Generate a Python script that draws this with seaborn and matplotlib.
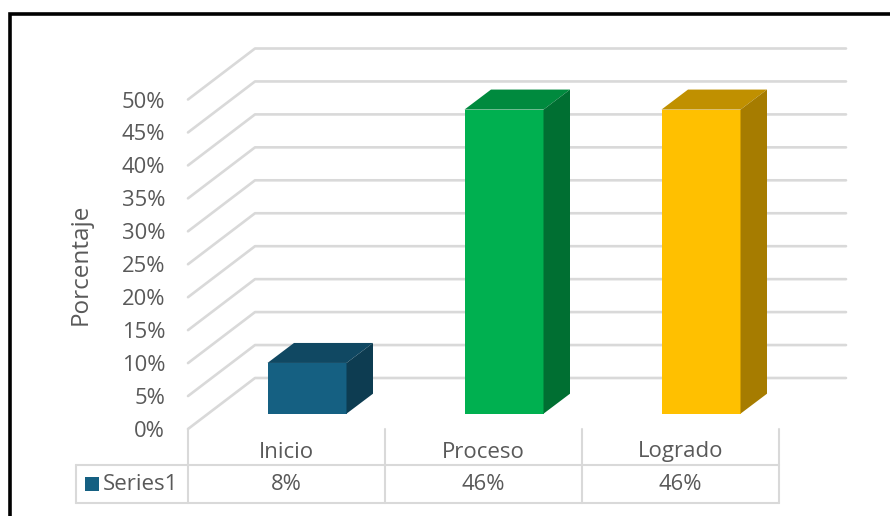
import matplotlib
matplotlib.use("Agg")
import matplotlib.pyplot as plt
from matplotlib.lines import Line2D
from matplotlib.patches import Polygon, Rectangle
import seaborn as sns

# data
categorias = ["Inicio", "Proceso", "Logrado"]
porcentajes = [7.7, 46.15, 46.15]
etiquetas_tabla = ["8%", "46%", "46%"]
ticks_y = [0, 5, 10, 15, 20, 25, 30, 35, 40, 45, 50]
serie = "Series1"

color_frente = ["#156082", "#00B050", "#FFC000"]
color_arriba = ["#104862", "#008A3E", "#C09000"]
color_lado = ["#0D3C51", "#006F32", "#A67C00"]
gris_linea = "#D9D9D9"
gris_texto = "#595959"

sns.set_theme(style="white")
plt.rcParams["font.family"] = ["Open Sans", "DejaVu Sans"]

W, H = 890, 516
fig = plt.figure(figsize=(W / 100, H / 100), dpi=100)
# the front plane of the fake 3d box
x0, x1, y_cero, y_cincuenta = 188, 779, 429, 99.5
ax = fig.add_axes([x0 / W, 1 - y_cero / H, (x1 - x0) / W, (y_cero - y_cincuenta) / H])

px_x = (x1 - x0) / 3          # pixels per category
px_y = (y_cero - y_cincuenta) / 50   # pixels per percent unit

sns.barplot(x=categorias, y=porcentajes, hue=categorias, palette=color_frente,
            width=79 / px_x, saturation=1, legend=False, ax=ax, zorder=3)
ax.set_xlim(-0.5, 2.5)
ax.set_ylim(0, 50)

# depth of the walls and of the bars
prof_x, prof_y = 67 / px_x, 51 / px_y
bar_x, bar_y = 26.5 / px_x, 20 / px_y
mueve_x, mueve_y = 20.5 / px_x, 15.3 / px_y

# grid lines, floor and back wall
for t in ticks_y:
    ax.plot([-0.5, -0.5 + prof_x, 2.5 + prof_x], [t, t + prof_y, t + prof_y],
            color=gris_linea, lw=1.9, clip_on=False, zorder=1,
            solid_capstyle="round", solid_joinstyle="round")

# move bars back and add top + side faces
for i, p in enumerate(ax.patches):
    p.set_x(p.get_x() + mueve_x)
    p.set_y(p.get_y() + mueve_y)
    p.set_clip_on(False)
    p.set_edgecolor("none")
    p.set_linewidth(0)
    xa, xb = p.get_x(), p.get_x() + p.get_width()
    ya, yb = p.get_y(), p.get_y() + p.get_height()
    ax.add_patch(Polygon([(xa, yb), (xa + bar_x, yb + bar_y), (xb + bar_x, yb + bar_y), (xb, yb)],
                         fc=color_arriba[i], ec="none", clip_on=False, zorder=3))
    ax.add_patch(Polygon([(xb, ya), (xb + bar_x, ya + bar_y), (xb + bar_x, yb + bar_y), (xb, yb)],
                         fc=color_lado[i], ec="none", clip_on=False, zorder=3))

ax.set_yticks(ticks_y)
ax.set_yticklabels([f"{t}%" for t in ticks_y])
ax.set_xticks(range(len(categorias)))
ax.set_xticklabels(categorias)
ax.tick_params(axis="y", length=0, pad=16.5, labelsize=15.8, labelcolor=gris_texto)
ax.tick_params(axis="x", length=0, pad=9, labelsize=16, labelcolor=gris_texto)
ax.set_ylabel("Porcentaje", fontsize=17.5, color=gris_texto)
ax.yaxis.set_label_coords((93 - x0) / (x1 - x0), (y_cero - 264) / (y_cero - y_cincuenta))
ax.set_xlabel("")
sns.despine(ax=ax, left=True, bottom=True)

# data table under the axis
fila1 = -(465 - y_cero) / px_y
fila2 = -(503 - y_cero) / px_y
izq = -0.5 - (x0 - 76) / px_x
for v in [-0.5, 0.5, 1.5, 2.5]:
    ax.plot([v, v], [0, fila2], color=gris_linea, lw=1.5, clip_on=False, zorder=1)
for f in [fila1, fila2]:
    ax.plot([izq, 2.5], [f, f], color=gris_linea, lw=1.5, clip_on=False, zorder=1)
ax.plot([izq, izq], [fila1, fila2], color=gris_linea, lw=1.5, clip_on=False, zorder=1)

medio = (fila1 + fila2) / 2
for i, txt in enumerate(etiquetas_tabla):
    ax.text(i, medio, txt, ha="center", va="center", fontsize=15.8, color=gris_texto)
ax.text(-0.5 - (x0 - 103) / px_x, medio, serie, ha="left", va="center", fontsize=16, color=gris_texto)
ax.add_patch(Rectangle((-0.5 - (x0 - 85) / px_x, medio - 7 / px_y), 14 / px_x, 14 / px_y,
                       fc=color_frente[0], ec="none", clip_on=False))

# black frame, only left and top are inside the picture
fig.add_artist(Line2D([10 / W, 10 / W, 1], [0, 1 - 13.5 / H, 1 - 13.5 / H], color="black", lw=2.6,
                      solid_joinstyle="miter"))

fig.savefig("out.png", dpi=100)
